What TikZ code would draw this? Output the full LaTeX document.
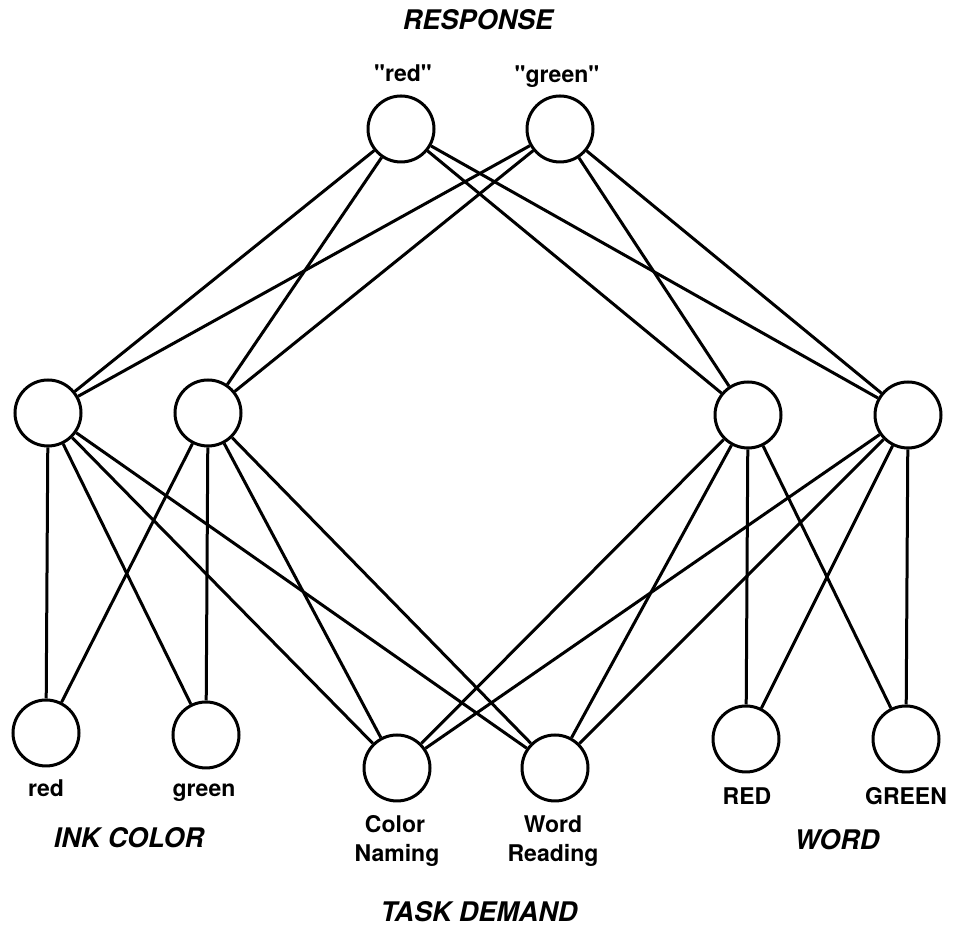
\documentclass[tikz,border=0pt]{standalone}
\usepackage{fontspec}
\setmainfont{TeX Gyre Heros}
\newfontfamily\plainquotes{TeX Gyre Heros}
\begin{document}
\begin{tikzpicture}[x=1pt,y=1pt,
  unit/.style={circle,draw,line width=3pt,minimum size=66pt,inner sep=0pt,fill=white},
  conn/.style={line width=3pt},
  item/.style={font=\fontsize{23}{29}\selectfont\bfseries,inner sep=0pt},
  qitem/.style={font=\plainquotes\fontsize{23}{29}\selectfont\bfseries,inner sep=0pt},
  cat/.style={font=\fontsize{27}{32}\selectfont\bfseries\itshape,inner sep=0pt}]
\useasboundingbox (0,0) rectangle (954,926);
% units (y = 926 - pixel y)
\node[unit] (rr) at (401,797) {};
\node[unit] (rg) at (560,797) {};
\node[unit] (h1) at (48,513) {};
\node[unit] (h2) at (208,513) {};
\node[unit] (h3) at (748,511) {};
\node[unit] (h4) at (908,511) {};
\node[unit] (ir) at (46,193) {};
\node[unit] (ig) at (206,191) {};
\node[unit] (tc) at (397,158) {};
\node[unit] (tw) at (555,158) {};
\node[unit] (wr) at (746,187) {};
\node[unit] (wg) at (906,187) {};
% connections
\foreach \r in {rr,rg}{
  \foreach \h in {h1,h2,h3,h4}{
    \draw[conn] (\r) -- (\h);
  }
}
\foreach \h in {h1,h2}{
  \foreach \b in {ir,ig,tc,tw}{
    \draw[conn] (\h) -- (\b);
  }
}
\foreach \h in {h3,h4}{
  \foreach \b in {wr,wg,tc,tw}{
    \draw[conn] (\h) -- (\b);
  }
}
% labels
\node[cat,anchor=base] (lresp) at (478,896) {RESPONSE};
\node[qitem,anchor=base] (lrr) at (403,844) {"red"};
\node[qitem,anchor=base] (lrg) at (557,843) {"green"};
\node[item,anchor=base] (lir) at (46,129) {red};
\node[item,anchor=base] (lig) at (204,129) {green};
\node[cat,anchor=base] (link) at (129,78) {INK COLOR};
\node[item,anchor=base] (ltc1) at (395,93) {Color};
\node[item,anchor=base] (ltc2) at (397,64) {Naming};
\node[item,anchor=base] (ltw1) at (553,93) {Word};
\node[item,anchor=base] (ltw2) at (553,64) {Reading};
\node[cat,anchor=base] (ltask) at (479,4) {TASK DEMAND};
\node[item,anchor=base] (lwr) at (747,121) {RED};
\node[item,anchor=base] (lwg) at (906,121) {GREEN};
\node[cat,anchor=base] (lword) at (837,76) {WORD};
\end{tikzpicture}
\end{document}
